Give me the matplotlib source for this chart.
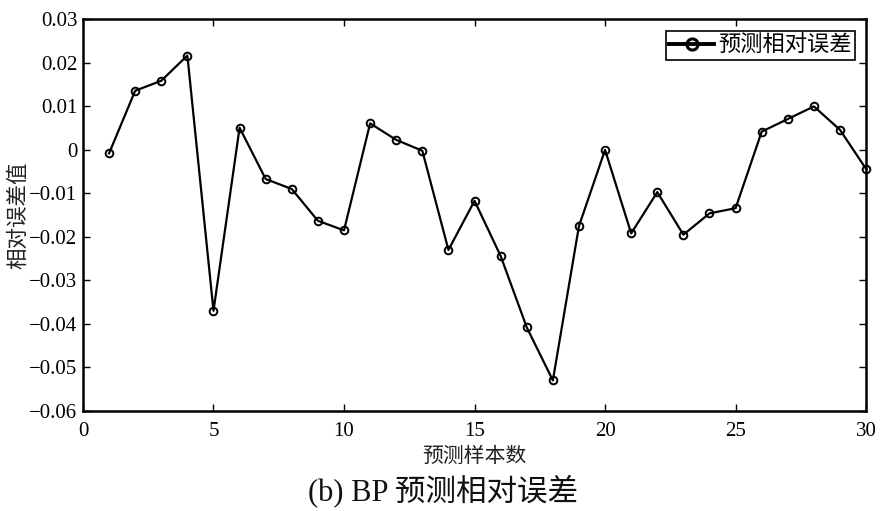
import numpy as np
import matplotlib
matplotlib.use('Agg')
import matplotlib.pyplot as plt

plt.rcParams['font.family'] = ['Liberation Serif', 'Noto Sans CJK SC', 'DejaVu Sans']

# sample index and BP relative error
samples = list(range(1, 31))
rel_error = [-0.0008, 0.0136, 0.0159, 0.0217, -0.0370, 0.0051, -0.0067, -0.0090,
             -0.0163, -0.0185, 0.0061, 0.0023, -0.0002, -0.0230, -0.0117, -0.0244,
             -0.0408, -0.0530, -0.0175, 0.0000, -0.0192, -0.0097, -0.0195, -0.0146,
             -0.0134, 0.0042, 0.0071, 0.0100, 0.0046, -0.0044]

xticks = [0, 5, 10, 15, 20, 25, 30]
yticks = [-0.06, -0.05, -0.04, -0.03, -0.02, -0.01, 0, 0.01, 0.02, 0.03]
ytick_labels = ['\u22120.06', '\u22120.05', '\u22120.04', '\u22120.03', '\u22120.02',
                '\u22120.01', '0', '0.01', '0.02', '0.03']

cjk = ['Noto Sans CJK SC', 'DejaVu Sans']

fig = plt.figure(figsize=(8.92, 5.11), dpi=100)
ax = fig.add_axes([0.093, 0.196, 0.878, 0.766])

ax.plot(samples, rel_error, color='black', linewidth=1.6, marker='o',
        markersize=5.5, markerfacecolor='none', markeredgecolor='black',
        markeredgewidth=1.4, label='预测相对误差', clip_on=False)

ax.set_xlim(0, 30)
ax.set_ylim(-0.06, 0.03)
ax.set_xticks(xticks)
ax.set_yticks(yticks)
ax.set_yticklabels(ytick_labels)
ax.tick_params(direction='in', top=True, right=True, length=5, width=1,
               labelsize=15, pad=4)
ax.tick_params(axis='x', pad=8)
for sp in ax.spines.values():
    sp.set_linewidth(1.8)

ax.set_xlabel('预测样本数', family=cjk, fontsize=15, color='#222222', labelpad=3)
ax.set_ylabel('相对误差值', family=cjk, fontsize=15.5, color='#222222', labelpad=0)

leg = ax.legend(loc='upper right', prop={'family': cjk, 'size': 16},
                fancybox=False, edgecolor='black', framealpha=1,
                handlelength=2.0, handletextpad=0.2, borderpad=0.15,
                borderaxespad=0.5)
leg.get_frame().set_linewidth(1.2)
for h in leg.legend_handles:
    h.set_linewidth(2.8)
    h.set_markersize(8)
    h.set_markeredgewidth(2.2)

fig.text(0.497, 0.04, '(b) BP 预测相对误差', family=['Liberation Serif', 'Noto Sans CJK SC'],
         fontsize=22, ha='center', va='center', color='#111111')

fig.savefig('out.png', dpi=100)
